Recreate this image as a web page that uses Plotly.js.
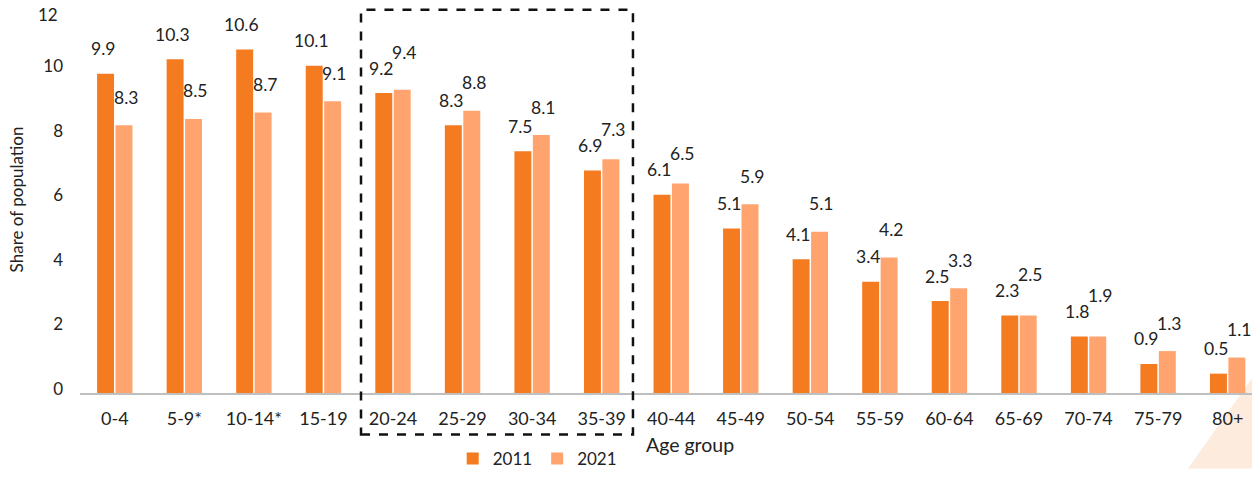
<!DOCTYPE html>
<html>
<head>
<meta charset="utf-8">
<script src="https://cdn.plot.ly/plotly-3.0.1.min.js"></script>
<style>html,body{margin:0;padding:0;background:#fff;}#chart{width:1252px;height:477px;}</style>
</head>
<body>
<div id="chart"></div>
<script>
const categories = ['0-4','5-9*','10-14*','15-19','20-24','25-29','30-34','35-39','40-44','45-49','50-54','55-59','60-64','65-69','70-74','75-79','80+'];
const values2011 = [9.9,10.35,10.65,10.15,9.3,8.3,7.5,6.9,6.15,5.1,4.15,3.45,2.85,2.4,1.75,0.9,0.6];
const values2021 = [8.3,8.5,8.7,9.05,9.4,8.75,8.0,7.25,6.5,5.85,5.0,4.2,3.25,2.4,1.75,1.3,1.1];
const labels2011 = ['9.9','10.3','10.6','10.1','9.2','8.3','7.5','6.9','6.1','5.1','4.1','3.4','2.5','2.3','1.8','0.9','0.5'];
const labels2021 = ['8.3','8.5','8.7','9.1','9.4','8.8','8.1','7.3','6.5','5.9','5.1','4.2','3.3','2.5','1.9','1.3','1.1'];
const yTicks = [0,2,4,6,8,10];

const FONT = 'Lato, "Open Sans", sans-serif';
const TXT = '#222222';
const C2011 = '#F57B20';
const C2021 = '#FFA46F';

const W = 1252, H = 477;
const M = {l:80, r:0, t:6, b:77};
const Y_MAX = 12;
const pxPerUnit = (H - M.t - M.b) / Y_MAX;

const traces = [
  {type:'bar', name:'2011', x:categories, y:values2011, marker:{color:C2011}, hoverinfo:'none'},
  {type:'bar', name:'2021', x:categories, y:values2021, marker:{color:C2021}, hoverinfo:'none'}
];

const LAB_FONT = {family:FONT, size:17.5, color:TXT};
const annotations = [];
categories.forEach((c,i)=>{
  const s2011 = 25, base2021 = 28, minGap = 16;
  const p2011 = values2011[i]*pxPerUnit + s2011;
  const p2021 = values2021[i]*pxPerUnit + base2021;
  // keep the 2021 label clear of the neighbouring 2011 label
  const s2021 = (p2021 < p2011 - minGap) ? base2021 : Math.max(base2021, p2011 + minGap - values2021[i]*pxPerUnit);
  annotations.push({x:c, y:values2011[i], xref:'x', yref:'y', text:labels2011[i], showarrow:false,
    xshift:-12, yshift:s2011, yanchor:'middle', font:LAB_FONT});
  annotations.push({x:c, y:values2021[i], xref:'x', yref:'y', text:labels2021[i], showarrow:false,
    xshift:11, yshift:s2021, yanchor:'middle', font:LAB_FONT});
});
annotations.push({x:0, xref:'paper', xanchor:'right', xshift:-20, y:1, yref:'paper', yshift:-8, yanchor:'middle',
  text:'12', showarrow:false, font:{family:FONT,size:17,color:TXT}});
annotations.push({x:0.4812, xref:'paper', xanchor:'left', y:-0.132, yref:'paper', yanchor:'middle',
  text:'Age group', showarrow:false, font:{family:FONT,size:19.5,color:TXT}});

const layout = {
  width:W, height:H,
  margin:M,
  paper_bgcolor:'#fff', plot_bgcolor:'rgba(0,0,0,0)',
  font:{family:FONT, size:17, color:TXT},
  barmode:'group', bargap:0.47, bargroupgap:0.08,
  showlegend:true,
  legend:{orientation:'h', x:0.318, xanchor:'left', y:-0.172, yanchor:'middle',
    font:{family:FONT,size:17,color:TXT}, itemwidth:30, tracegroupgap:0, bgcolor:'rgba(0,0,0,0)'},
  xaxis:{type:'category', range:[-0.5,16.35], showgrid:false, zeroline:false,
    showline:true, linecolor:'#BFBFBF', linewidth:1.5, ticks:'', ticklabelstandoff:9,
    tickfont:{family:FONT,size:18,color:TXT}, fixedrange:true},
  yaxis:{range:[0,Y_MAX], tickvals:yTicks, showgrid:false, zeroline:false, showline:false, ticks:'',
    ticklabelshift:-4, ticklabelstandoff:16,
    tickfont:{family:FONT,size:17,color:TXT},
    title:{text:'Share of population', font:{family:FONT,size:17,color:TXT}, standoff:15}, fixedrange:true},
  shapes:[
    {type:'path', xref:'paper', yref:'paper', path:'M 0.9454 -0.195 L 1 0.038 L 1 -0.195 Z',
      fillcolor:'#FDEBDD', line:{width:0}, layer:'below'},
    {type:'rect', xref:'x', yref:'paper', x0:3.54, x1:7.45, y0:-0.107, y1:0.99,
      line:{color:'#111', width:2.5, dash:'dash'}, fillcolor:'rgba(0,0,0,0)', layer:'above'}
  ],
  annotations:annotations
};

Plotly.newPlot('chart', traces, layout, {displayModeBar:false, staticPlot:true});
</script>
</body>
</html>
